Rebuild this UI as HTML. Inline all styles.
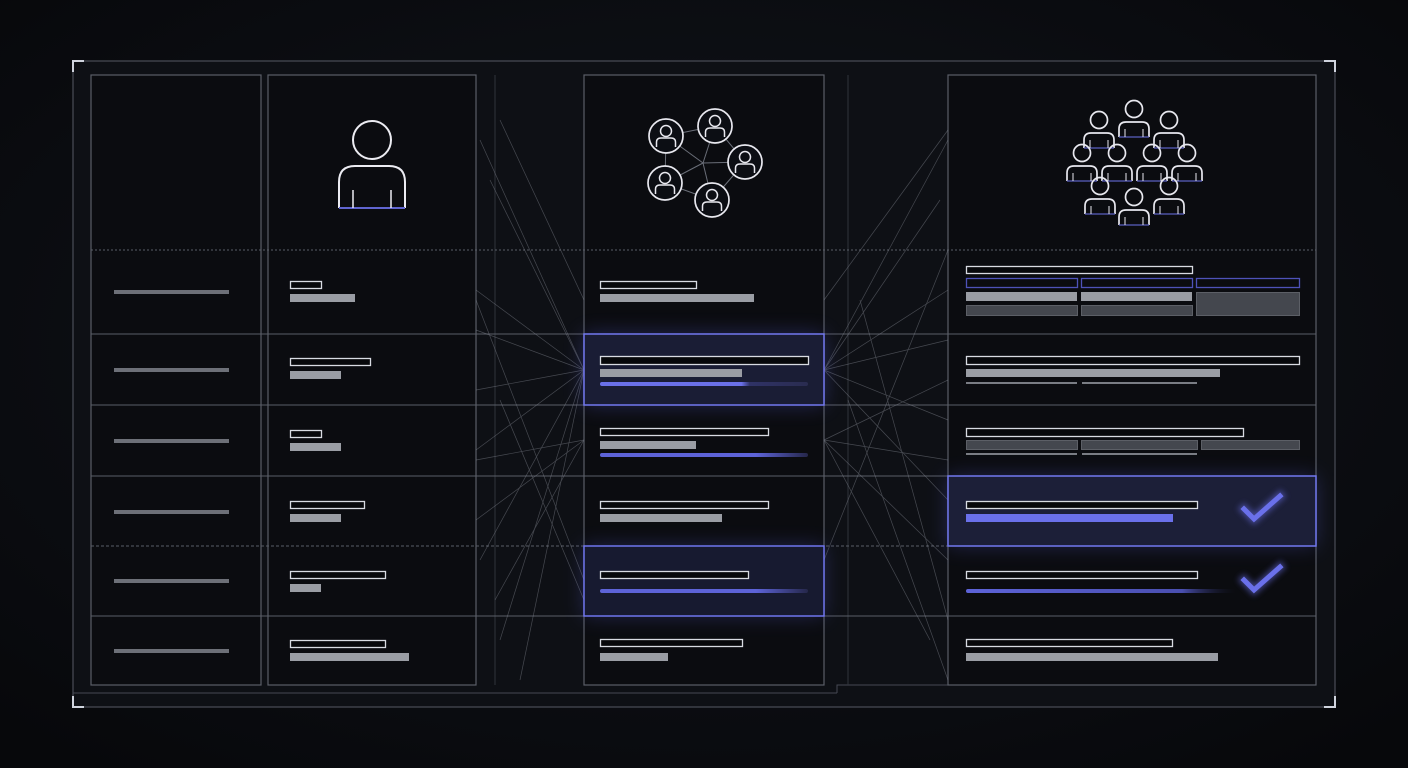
<!DOCTYPE html>
<html><head><meta charset="utf-8"><style>
html,body{margin:0;padding:0;background:#090b0f;}
svg{display:block}
</style></head><body>
<svg width="1408" height="768" viewBox="0 0 1408 768" xmlns="http://www.w3.org/2000/svg">
<defs>
<radialGradient id="bg" cx="50%" cy="45%" r="70%"><stop offset="0" stop-color="#13161d"/><stop offset="1" stop-color="#07080b"/></radialGradient>
<filter id="glow" x="-30%" y="-60%" width="160%" height="220%"><feGaussianBlur stdDeviation="10"/></filter>
<filter id="sglow" x="-50%" y="-50%" width="200%" height="200%"><feGaussianBlur stdDeviation="3"/></filter>
<linearGradient id="bl1" x1="0" x2="1"><stop offset="0" stop-color="#6a70e8"/><stop offset="0.68" stop-color="#6a70e8"/><stop offset="0.72" stop-color="#2f3266"/><stop offset="1" stop-color="#2a2c50"/></linearGradient>
<linearGradient id="bl2" x1="0" x2="1"><stop offset="0" stop-color="#5d63d8"/><stop offset="0.75" stop-color="#5d63d8"/><stop offset="1" stop-color="#25274a"/></linearGradient>
<linearGradient id="bl3" x1="0" x2="1"><stop offset="0" stop-color="#5d63d8"/><stop offset="0.8" stop-color="#4a4fb0"/><stop offset="1" stop-color="#141628" stop-opacity="0"/></linearGradient>
<g id="p"><circle cx="0" cy="0" r="8.5" fill="none" stroke="#e8e8ef" stroke-width="1.7"/><path d="M-15 28 V20 Q-15 13 -8 13 H8 Q15 13 15 20 V28" fill="none" stroke="#e8e8ef" stroke-width="1.7"/><line x1="-15" y1="28" x2="15" y2="28" stroke="#5a5fc0" stroke-width="1.3"/><line x1="-9" y1="20" x2="-9" y2="28" stroke="#e8e8ef" stroke-width="1"/><line x1="9" y1="20" x2="9" y2="28" stroke="#e8e8ef" stroke-width="1"/></g>
<g id="np"><circle cx="0" cy="0" r="17" fill="#0c0e14" stroke="#e8e8ef" stroke-width="1.7"/><circle cx="0" cy="-5" r="5.5" fill="none" stroke="#e8e8ef" stroke-width="1.5"/><path d="M-9.5 11 V6 Q-9.5 2 -5 2 H5 Q9.5 2 9.5 6 V11" fill="none" stroke="#e8e8ef" stroke-width="1.5"/></g>
</defs>
<rect width="1408" height="768" fill="url(#bg)"/>
<rect x="73" y="61" width="1262" height="646" fill="#0e1015" stroke="#4a4e58" stroke-width="1.2"/>
<path d="M73 72 V61 H84 M1324 61 H1335 V72 M73 696 V707 H84 M1324 707 H1335 V696" stroke="#d0d4de" stroke-width="2" fill="none"/>
<line x1="73" y1="693" x2="837" y2="693" stroke="#454953"/><path d="M837 693 V685 H1316" stroke="#454953" fill="none"/>
<line x1="495" y1="75" x2="495" y2="685" stroke="#30333b"/><line x1="848" y1="75" x2="848" y2="685" stroke="#30333b"/>
<g fill="#0b0c10" stroke="#5a5e68" stroke-width="1.2">
<rect x="91" y="75" width="170" height="610"/>
<rect x="268" y="75" width="208" height="610"/>
<rect x="584" y="75" width="240" height="610"/>
<rect x="948" y="75" width="368" height="610"/>
</g>
<g stroke="#5a5e68" stroke-width="1.1">
<line x1="91" y1="250" x2="1316" y2="250" stroke-dasharray="2 2"/>
<line x1="91" y1="334" x2="1316" y2="334"/>
<line x1="91" y1="405" x2="1316" y2="405"/>
<line x1="91" y1="476" x2="1316" y2="476"/>
<line x1="91" y1="546" x2="1316" y2="546" stroke-dasharray="3 2"/>
<line x1="91" y1="616" x2="1316" y2="616"/>
</g>
<g stroke="#8a8e98" stroke-width="0.7" opacity="0.45" fill="none">
<path d="M584 370 L480 140"/><path d="M584 370 L490 180"/><path d="M584 370 L476 290"/><path d="M584 370 L476 330"/><path d="M584 370 L476 390"/><path d="M584 370 L476 450"/><path d="M584 370 L480 560"/><path d="M584 370 L500 640"/><path d="M584 370 L520 680"/><path d="M584 440 L476 520"/><path d="M584 440 L495 600"/><path d="M584 440 L476 460"/><path d="M584 300 L500 120"/><path d="M584 600 L500 400"/><path d="M584 580 L476 300"/>
<path d="M824 370 L948 140"/><path d="M824 370 L940 200"/><path d="M824 370 L948 290"/><path d="M824 370 L948 340"/><path d="M824 370 L948 420"/><path d="M824 370 L948 500"/><path d="M824 440 L948 560"/><path d="M824 440 L948 380"/><path d="M824 440 L930 640"/><path d="M824 440 L948 460"/><path d="M824 300 L948 130"/><path d="M824 560 L948 250"/><path d="M848 400 L948 680"/><path d="M860 300 L948 620"/>
</g>
<rect x="584" y="334" width="240" height="71" fill="#5a60d8" opacity="0.35" filter="url(#glow)"/>
<rect x="584" y="334" width="240" height="71" fill="#1a1d35" stroke="#7278f0" stroke-width="1.5"/>
<rect x="584" y="546" width="240" height="70" fill="#5a60d8" opacity="0.3" filter="url(#glow)"/>
<rect x="584" y="546" width="240" height="70" fill="#171a30" stroke="#6f75ee" stroke-width="1.5"/>
<rect x="948" y="476" width="368" height="70" fill="#5a60d8" opacity="0.3" filter="url(#glow)"/>
<rect x="948" y="476" width="368" height="70" fill="#1c1f38" stroke="#7278f0" stroke-width="1.5"/>
<g fill="#6d7078"><rect x="114" y="290" width="115" height="4"/><rect x="114" y="368" width="115" height="4"/><rect x="114" y="439" width="115" height="4"/><rect x="114" y="510" width="115" height="4"/><rect x="114" y="579" width="115" height="4"/><rect x="114" y="649" width="115" height="4"/></g>
<g fill="#07080b" stroke="#d8dbe2" stroke-width="1.3">
<rect x="290.5" y="281.5" width="31" height="7"/><rect x="290.5" y="358.5" width="80" height="7"/><rect x="290.5" y="430.5" width="31" height="7"/><rect x="290.5" y="501.5" width="74" height="7"/><rect x="290.5" y="571.5" width="95" height="7"/><rect x="290.5" y="640.5" width="95" height="7"/>
<rect x="600.5" y="281.5" width="96" height="7"/><rect x="600.5" y="356.5" width="208" height="8"/><rect x="600.5" y="428.5" width="168" height="7"/><rect x="600.5" y="501.5" width="168" height="7"/><rect x="600.5" y="571.5" width="148" height="7"/><rect x="600.5" y="639.5" width="142" height="7"/>
<rect x="966.5" y="266.5" width="226" height="7"/><rect x="966.5" y="356.5" width="333" height="8"/><rect x="966.5" y="428.5" width="277" height="8"/><rect x="966.5" y="501.5" width="231" height="7"/><rect x="966.5" y="571.5" width="231" height="7"/><rect x="966.5" y="639.5" width="206" height="7"/>
</g>
<g fill="#9a9da4">
<rect x="290" y="294" width="65" height="8"/><rect x="290" y="371" width="51" height="8"/><rect x="290" y="443" width="51" height="8"/><rect x="290" y="514" width="51" height="8"/><rect x="290" y="584" width="31" height="8"/><rect x="290" y="653" width="119" height="8"/>
<rect x="600" y="294" width="154" height="8"/><rect x="600" y="369" width="142" height="8"/><rect x="600" y="441" width="96" height="8"/><rect x="600" y="514" width="122" height="8"/><rect x="600" y="653" width="68" height="8"/>
<rect x="966" y="292" width="111" height="9"/><rect x="1081" y="292" width="111" height="9"/><rect x="966" y="369" width="254" height="8"/><rect x="966" y="653" width="252" height="8"/>
</g>
<g fill="#44474e" stroke="#5c5f66" stroke-width="1">
<rect x="966.5" y="305.5" width="111" height="10"/><rect x="1081.5" y="305.5" width="111" height="10"/><rect x="1196.5" y="292.5" width="103" height="23"/>
<rect x="966.5" y="440.5" width="111" height="9"/><rect x="1081.5" y="440.5" width="116" height="9"/><rect x="1201.5" y="440.5" width="98" height="9"/>
</g>
<g fill="none" stroke="#4e52b8" stroke-width="1.3"><rect x="966.5" y="278.5" width="111" height="9"/><rect x="1081.5" y="278.5" width="111" height="9"/><rect x="1196.5" y="278.5" width="103" height="9"/></g>
<g fill="#7a7d84"><rect x="966" y="382" width="111" height="2"/><rect x="1082" y="382" width="115" height="2"/><rect x="966" y="453" width="111" height="2"/><rect x="1082" y="453" width="115" height="2"/></g>
<rect x="600" y="382" width="208" height="4" rx="2" fill="url(#bl1)"/>
<rect x="600" y="453" width="208" height="4" rx="2" fill="url(#bl2)"/>
<rect x="600" y="589" width="208" height="4" rx="2" fill="url(#bl2)"/>
<rect x="966" y="514" width="207" height="8" fill="#6a70ea"/>
<rect x="966" y="589" width="270" height="4" rx="2" fill="url(#bl3)"/>
<g fill="none" stroke-linecap="square">
<path d="M1244 509 L1254 519 L1280 496" stroke="#6a70ea" stroke-width="9" opacity="0.5" filter="url(#sglow)"/>
<path d="M1244 509 L1254 519 L1280 496" stroke="#6a70ea" stroke-width="5"/>
<path d="M1244 580 L1254 590 L1280 567" stroke="#6a70ea" stroke-width="9" opacity="0.5" filter="url(#sglow)"/>
<path d="M1244 580 L1254 590 L1280 567" stroke="#6a70ea" stroke-width="5"/>
</g>
<circle cx="372" cy="140" r="19" fill="none" stroke="#ececf2" stroke-width="2"/>
<path d="M339 208 V182 Q339 166 355 166 H389 Q405 166 405 182 V208" fill="none" stroke="#ececf2" stroke-width="2"/>
<line x1="339" y1="208" x2="405" y2="208" stroke="#6065d0" stroke-width="2"/>
<line x1="353" y1="190" x2="353" y2="208" stroke="#ececf2" stroke-width="1.5"/><line x1="391" y1="190" x2="391" y2="208" stroke="#ececf2" stroke-width="1.5"/>
<g stroke="#6a6e78" stroke-width="1">
<line x1="703" y1="163" x2="666" y2="136"/><line x1="703" y1="163" x2="715" y2="126"/><line x1="703" y1="163" x2="745" y2="162"/><line x1="703" y1="163" x2="665" y2="183"/><line x1="703" y1="163" x2="712" y2="200"/>
<line x1="666" y1="136" x2="715" y2="126"/><line x1="715" y1="126" x2="745" y2="162"/><line x1="745" y1="162" x2="712" y2="200"/><line x1="712" y1="200" x2="665" y2="183"/><line x1="665" y1="183" x2="666" y2="136"/>
</g>
<use href="#np" x="666" y="136"/><use href="#np" x="715" y="126"/><use href="#np" x="745" y="162"/><use href="#np" x="665" y="183"/><use href="#np" x="712" y="200"/>
<use href="#p" x="1134" y="109"/><use href="#p" x="1099" y="120"/><use href="#p" x="1169" y="120"/>
<use href="#p" x="1082" y="153"/><use href="#p" x="1117" y="153"/><use href="#p" x="1152" y="153"/><use href="#p" x="1187" y="153"/>
<use href="#p" x="1100" y="186"/><use href="#p" x="1169" y="186"/><use href="#p" x="1134" y="197"/>
</svg>
</body></html>
